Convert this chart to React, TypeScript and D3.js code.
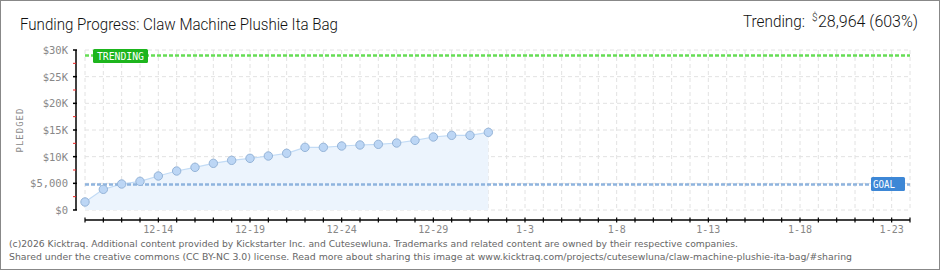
import React from "react";
import * as d3 from "d3";

const W = 940;
const H = 270;

const startDate = "2025-12-10";
const endDate = "2026-01-24";
const pledged = [1500, 3875, 4875, 5375, 6375, 7312, 8000, 8750, 9310, 9690, 10125, 10630, 11750, 11750, 12000, 12190, 12310, 12560, 13060, 13690, 14000, 14000, 14560];
const goal = 4800;
const trending = 28964;
const yTicks = [0, 5000, 10000, 15000, 20000, 25000, 30000];
const yTickLabels = ["$0", "$5,000", "$10K", "$15K", "$20K", "$25K", "$30K"];
const xLabelDates = ["2025-12-14", "2025-12-19", "2025-12-24", "2025-12-29", "2026-01-03", "2026-01-08", "2026-01-13", "2026-01-18", "2026-01-23"];

const title = "Funding Progress: Claw Machine Plushie Ita Bag";
const footer1 = "(c)2026 Kicktraq. Additional content provided by Kickstarter Inc. and Cutesewluna. Trademarks and related content are owned by their respective companies.";
const footer2 = "Shared under the creative commons (CC BY-NC 3.0) license. Read more about sharing this image at www.kicktraq.com/projects/cutesewluna/claw-machine-plushie-ita-bag/#sharing";

const parse = d3.utcParse("%Y-%m-%d");

export default function App() {
  const x = d3.scaleUtc().domain([parse(startDate)!, parse(endDate)!]).range([85, 910]);
  const y = d3.scaleLinear().domain([0, 30000]).range([210, 50]);
  const days = d3.utcDay.range(parse(startDate)!, d3.utcDay.offset(parse(endDate)!, 1));
  const pts = pledged.map((v, i) => ({ d: d3.utcDay.offset(parse(startDate)!, i), v }));
  const area = d3.area<any>().x((p) => x(p.d)).y0(y(0)).y1((p) => y(p.v));
  const line = d3.line<any>().x((p) => x(p.d)).y((p) => y(p.v));
  const fmt = d3.utcFormat("%-m-%-d");
  const minor = d3.range(2500, 30000, 5000);
  const tickFont = "DejaVu Sans Mono, DejaVu Sans";

  return (
    <svg width={W} height={H} style={{ position: "fixed", left: 0, top: 0, background: "#fff" }}>
      <rect x={0.5} y={0.5} width={W - 1} height={H - 1} fill="#fff" stroke="#888" />
      <text x={20} y={30} fontFamily="Roboto, sans-serif" fontWeight={300} fontSize={17} fill="#111" textLength={318} lengthAdjust="spacingAndGlyphs">{title}</text>
      <text x={743} y={27} fontFamily="Roboto, sans-serif" fontWeight={300} fontSize={16} fill="#111" textLength={62} lengthAdjust="spacingAndGlyphs">Trending:</text>
      <text x={812} y={21} fontFamily="Roboto, sans-serif" fontWeight={300} fontSize={10} fill="#111">$</text>
      <text x={818} y={27} fontFamily="Roboto, sans-serif" fontWeight={300} fontSize={16} fill="#111" textLength={100} lengthAdjust="spacingAndGlyphs">28,964 (603%)</text>

      {/* grid */}
      {days.map((d, i) => (
        <line key={"vg" + i} x1={x(d)} x2={x(d)} y1={50} y2={210} stroke="#e2e2e2" strokeDasharray="4,3" />
      ))}
      {yTicks.map((t, i) => (
        <line key={"hg" + i} x1={85} x2={910} y1={y(t)} y2={y(t)} stroke="#e2e2e2" strokeDasharray="4,3" />
      ))}

      {/* area + line */}
      <path d={area(pts)!} fill="#ecf4fd" />
      <path d={line(pts)!} fill="none" stroke="#c2dbf5" strokeWidth={1.2} />

      {/* goal line */}
      <line x1={85} x2={910} y1={y(goal)} y2={y(goal)} stroke="#8fb4de" strokeWidth={2.5} strokeDasharray="4,2" />
      {/* trending line */}
      <line x1={85} x2={910} y1={y(trending)} y2={y(trending)} stroke="#66dd55" strokeWidth={2.5} strokeDasharray="4,2" />

      {pts.map((p, i) => (
        <circle key={"c" + i} cx={x(p.d)} cy={y(p.v)} r={4.2} fill="#bcd6f5" stroke="#95b4d8" strokeWidth={1} />
      ))}

      {/* trending label */}
      <rect x={93} y={49} width={55} height={14} rx={1.5} fill="#1db51d" />
      <text x={120.5} y={59.5} textAnchor="middle" fontFamily={tickFont} fontSize={10} fill="#fff" textLength={47} lengthAdjust="spacingAndGlyphs">TRENDING</text>
      {/* goal label */}
      <rect x={871} y={177} width={34} height={14} rx={1.5} fill="#3d87d6" />
      <text x={884} y={187.5} textAnchor="middle" fontFamily={tickFont} fontSize={10} fill="#fff" textLength={22} lengthAdjust="spacingAndGlyphs">GOAL</text>

      {/* y axis */}
      <line x1={76} x2={76} y1={50} y2={210} stroke="#000" strokeWidth={1.5} />
      {yTicks.map((t, i) => (
        <g key={"yt" + i}>
          <line x1={73} x2={77} y1={y(t)} y2={y(t)} stroke="#000" strokeWidth={1.5} />
          <text x={68} y={y(t) + 4} textAnchor="end" fontFamily={tickFont} fontSize={10.5} fill="#888">{yTickLabels[i]}</text>
        </g>
      ))}
      {minor.map((t, i) => (
        <line key={"mt" + i} x1={73} x2={76} y1={y(t)} y2={y(t)} stroke="#e22" strokeWidth={1} />
      ))}
      <text transform="translate(23,130) rotate(-90)" textAnchor="middle" fontFamily={tickFont} fontSize={9} fill="#888" letterSpacing={1}>PLEDGED</text>

      {/* x axis */}
      <line x1={85} x2={910} y1={220} y2={220} stroke="#000" strokeWidth={1.5} />
      {days.map((d, i) => (
        <line key={"xt" + i} x1={x(d)} x2={x(d)} y1={217.5} y2={222.5} stroke="#000" strokeWidth={1.2} />
      ))}
      {xLabelDates.map((s, i) => (
        <text key={"xl" + i} x={x(parse(s)!)} y={233} textAnchor="middle" fontFamily={tickFont} fontSize={10} fill="#888">{fmt(parse(s)!)}</text>
      ))}

      {/* footer */}
      <text x={9} y={247} fontFamily="DejaVu Sans, sans-serif" fontSize={9.5} fill="#666" textLength={729} lengthAdjust="spacingAndGlyphs">{footer1}</text>
      <text x={9} y={259.5} fontFamily="DejaVu Sans, sans-serif" fontSize={9.5} fill="#666" textLength={843} lengthAdjust="spacingAndGlyphs">{footer2}</text>
    </svg>
  );
}
